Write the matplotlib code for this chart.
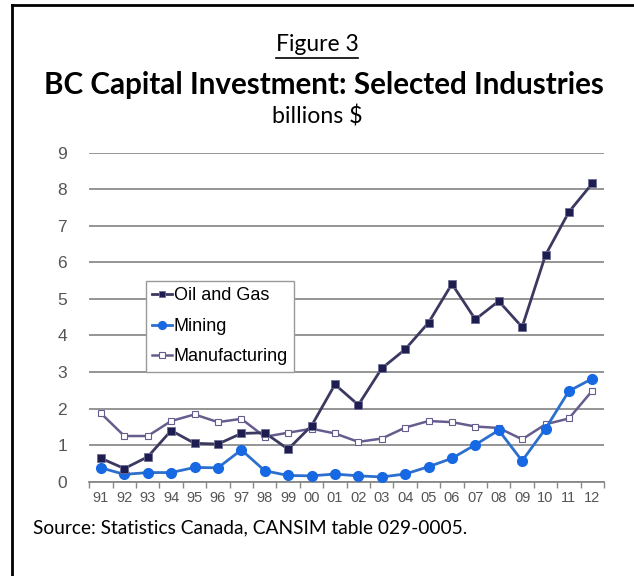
import matplotlib
matplotlib.use('Agg')
import matplotlib.pyplot as plt
from matplotlib.lines import Line2D

years = ['91', '92', '93', '94', '95', '96', '97', '98', '99', '00', '01',
         '02', '03', '04', '05', '06', '07', '08', '09', '10', '11', '12']
oil_gas = [0.64, 0.36, 0.68, 1.40, 1.05, 1.03, 1.32, 1.34, 0.89, 1.53, 2.66,
           2.10, 3.10, 3.62, 4.35, 5.41, 4.44, 4.94, 4.23, 6.20, 7.38, 8.16]
mining = [0.38, 0.20, 0.25, 0.25, 0.39, 0.38, 0.87, 0.30, 0.17, 0.16, 0.21,
          0.16, 0.13, 0.21, 0.41, 0.64, 1.01, 1.41, 0.57, 1.45, 2.48, 2.82]
manufacturing = [1.87, 1.25, 1.25, 1.66, 1.84, 1.63, 1.72, 1.23, 1.34, 1.45, 1.32,
                 1.09, 1.18, 1.48, 1.66, 1.63, 1.51, 1.47, 1.16, 1.57, 1.73, 2.49]
yticks = list(range(0, 10))

tick_font = ['Liberation Sans', 'DejaVu Sans']
title_font = ['Lato', 'DejaVu Sans']

fig = plt.figure(figsize=(6.34, 5.76), dpi=100)
ax = fig.add_axes([0.1408, 0.1637, 0.8119, 0.5712])

x = list(range(len(years)))
ax.plot(x, oil_gas, color='#3b3960', lw=2, marker='s', ms=5.5,
        mfc='#1e1d4f', mec='#6f6d94', mew=0.6, label='Oil and Gas', zorder=4)
ax.plot(x, mining, color='#2c6fcc', lw=2, marker='o', ms=7,
        mfc='#1668e3', mec='#1668e3', label='Mining', zorder=3)
ax.plot(x, manufacturing, color='#675c8e', lw=1.8, marker='s', ms=5,
        mfc='white', mec='#675c8e', mew=0.8, label='Manufacturing', zorder=2)

ax.set_xlim(-0.5, len(years) - 0.5)
ax.set_ylim(0, 9)
ax.set_yticks(yticks)
ax.set_yticklabels([str(v) for v in yticks], family=tick_font, fontsize=12.5,
                   color='#555555')
ax.set_xticks(x)
ax.set_xticklabels(years, family=tick_font, fontsize=10.5, color='#555555')
ax.set_xticks([i - 0.5 for i in range(len(years) + 1)], minor=True)
ax.tick_params(axis='x', which='major', length=0, pad=7)
ax.tick_params(axis='x', which='minor', length=4, width=1, color='#888888',
               direction='out')
ax.tick_params(axis='y', length=0, pad=16)
ax.grid(axis='y', color='#8c8c8c', lw=1.3)
ax.set_axisbelow(True)
for s in ['top', 'right', 'left']:
    ax.spines[s].set_visible(False)
ax.spines['bottom'].set_color('#888888')
ax.spines['bottom'].set_linewidth(1.3)

leg = ax.legend(loc='upper left', bbox_to_anchor=(0.11, 0.61),
                prop={'family': tick_font, 'size': 13}, handlelength=1.1,
                handletextpad=0.1, borderpad=0.35, labelspacing=0.75,
                fancybox=False, framealpha=1, edgecolor='#999999',
                borderaxespad=0, markerscale=0.8)
leg.get_frame().set_linewidth(1)

fig.text(0.5, 0.922, 'Figure 3', ha='center', va='center',
         family=title_font, fontsize=16.5)
fig.text(0.511, 0.853, 'BC Capital Investment: Selected Industries',
         ha='center', va='center', family=title_font, fontsize=21.3,
         fontweight='bold')
fig.text(0.5, 0.797, 'billions $', ha='center', va='center',
         family=title_font, fontsize=16.7)
fig.text(0.052, 0.083, 'Source: Statistics Canada, CANSIM table 029-0005.',
         ha='left', va='center', family=title_font, fontsize=13.8)

# underline for "Figure 3"
fig.add_artist(Line2D([0.436, 0.565], [0.899, 0.899], color='black', lw=1.2))

# frame (right and bottom edges cut off in the original)
fig.add_artist(Line2D([0.019, 1.0], [0.991, 0.991], color='black', lw=2))
fig.add_artist(Line2D([0.019, 0.019], [0.0, 0.991], color='black', lw=2))

fig.savefig('out.png', dpi=100)
